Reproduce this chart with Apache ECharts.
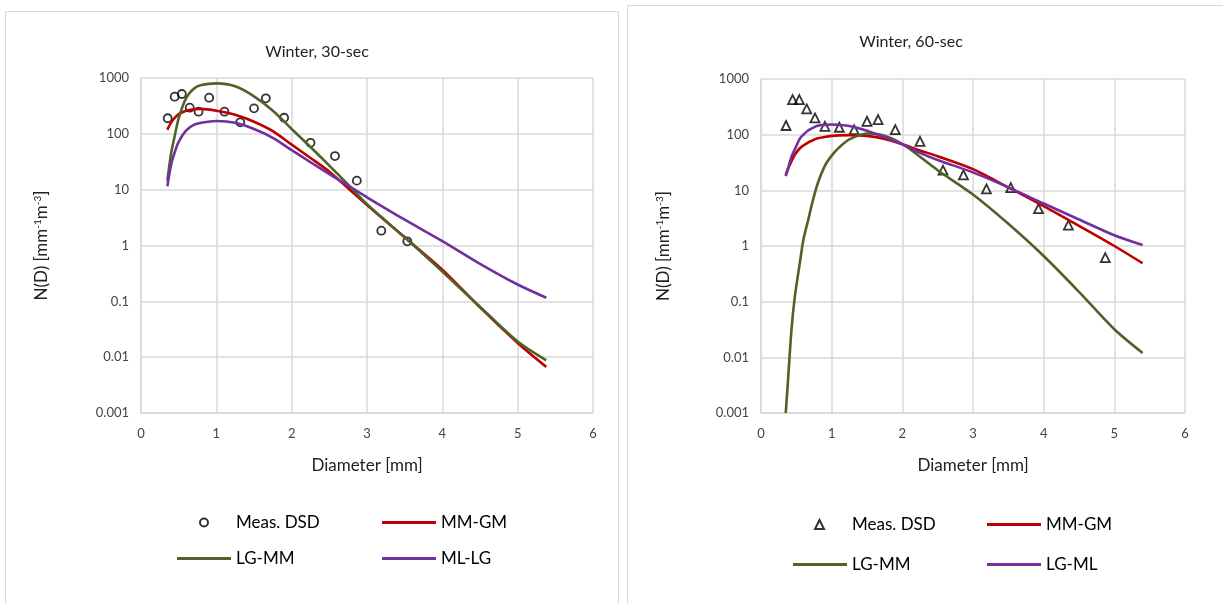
<!DOCTYPE html>
<html>
<head>
<meta charset="utf-8">
<script src="https://cdn.jsdelivr.net/npm/echarts@6/dist/echarts.min.js"></script>
<style>
    body { margin: 0; background: #fff; width: 1223px; height: 604px; overflow: hidden; position: relative; }
    .box { position: absolute; border: 1px solid #d9d9d9; box-sizing: border-box; background: #fff; }
    #chart30 { left: 5px; top: 11px; width: 614px; height: 610px; }
    #chart60 { left: 627px; top: 5px; width: 600px; height: 610px; }
</style>
</head>
<body>
<div id="chart30" class="box"></div>
<div id="chart60" class="box"></div>
<script>
    // drop size bins [mm]
    var diamBins = [0.354, 0.447, 0.542, 0.647, 0.764, 0.905, 1.108, 1.318, 1.5, 1.657, 1.9, 2.25, 2.575, 2.865, 3.19, 3.535, 3.927, 4.35, 4.872];

    // measured DSD, 30-sec (first 16 bins)
    var meas30 = [190, 462, 517, 294, 249, 444, 249, 161, 286, 433, 194, 69, 40, 14.5, 1.84, 1.19];
    // measured DSD, 60-sec
    var meas60 = [146, 426, 426, 290, 200, 141, 136, 123, 174, 187, 123, 76, 23, 19, 10.6, 11.2, 4.7, 2.38, 0.62];

    // fitted curves 30-sec
    var fitX30 = [0.35, 0.4, 0.45, 0.5, 0.6, 0.7, 0.8, 1.0, 1.25, 1.5, 1.75, 2.0, 2.25, 2.5, 2.75, 3.0, 3.5, 4.0, 4.5, 5.0, 5.38];
    var mmgm30 = [118, 160, 195, 225, 260, 275, 280, 260, 220, 165, 112, 64, 37, 21, 10.6, 5.3, 1.4, 0.37, 0.078, 0.018, 0.0067];
    var lgmm30 = [14.5, 45, 95, 190, 440, 640, 750, 800, 710, 470, 260, 122, 58, 27, 12.3, 5.5, 1.4, 0.34, 0.08, 0.019, 0.0088];
    var mllg30 = [11.5, 28, 48, 72, 115, 145, 158, 170, 158, 122, 85, 51, 31, 19, 11.8, 7.3, 2.9, 1.2, 0.47, 0.2, 0.116];

    // fitted curves 60-sec
    var fitX60 = [0.35, 0.38, 0.43, 0.48, 0.55, 0.6, 0.67, 0.72, 0.8, 0.9, 1.0, 1.1, 1.25, 1.5, 1.75, 2.0, 2.25, 2.5, 3.0, 3.5, 4.0, 4.5, 5.0, 5.4];
    var mmgm60 = [19, 24, 33, 44, 57, 64, 73, 78, 86, 91, 95, 97, 98, 95, 84, 67, 52, 41, 24, 11.3, 5.2, 2.3, 1.0, 0.49];
    var lgmm60 = [0.001, 0.0035, 0.03, 0.127, 0.5, 1.3, 3.0, 5.6, 13, 27, 42, 58, 82, 105, 96, 68, 40, 23, 8.4, 2.5, 0.66, 0.15, 0.032, 0.012];
    var lgml60 = [18, 24, 40, 55, 85, 100, 120, 130, 145, 150, 152, 150, 143, 118, 90, 67, 47, 35, 21, 11.3, 5.8, 3.0, 1.56, 1.04];

    var xTicks = [0, 1, 2, 3, 4, 5, 6];
    var yTicks = [0.001, 0.01, 0.1, 1, 10, 100, 1000];

    var FONT = 'Lato, "Open Sans", sans-serif';
    var GRID_COLOR = '#d9d9d9';

    function pairs(xs, ys) {
        var res = [];
        for (var i = 0; i < ys.length; i++) {
            res.push([xs[i], ys[i]]);
        }
        return res;
    }

    function lineSeries(name, color, xs, ys) {
        return {
            name: name,
            type: 'line',
            data: pairs(xs, ys),
            showSymbol: false,
            smooth: 0.3,
            lineStyle: {width: 2.6, color: color},
            itemStyle: {color: color}
        };
    }

    // one legend per item so the columns line up like the original
    function lineLegend(name, left, top) {
        return {
            data: [{name: name, icon: 'rect'}],
            left: left,
            top: top,
            itemWidth: 54,
            itemHeight: 3,
            textStyle: {fontFamily: FONT, fontSize: 17, color: '#000'},
            selectedMode: false
        };
    }

    function markLegend(left, top, size) {
        return {
            data: ['Meas. DSD'],
            left: left,
            top: top,
            itemWidth: size,
            itemHeight: size,
            textStyle: {fontFamily: FONT, fontSize: 17, color: '#000', padding: [0, 0, 0, 23]},
            selectedMode: false
        };
    }

    function buildOption(cfg) {
        return {
            animation: false,
            textStyle: {fontFamily: FONT},
            title: {
                text: cfg.title,
                left: cfg.titleX,
                top: cfg.titleY,
                textAlign: 'center',
                textStyle: {fontFamily: FONT, fontSize: 16, fontWeight: 'normal', color: '#222'}
            },
            legend: [
                markLegend(cfg.markX, cfg.legY[0], cfg.markSize),
                lineLegend(cfg.names[2], cfg.legX[0], cfg.legY[1]),
                lineLegend(cfg.names[1], cfg.legX[1], cfg.legY[0]),
                lineLegend(cfg.names[3], cfg.legX[1], cfg.legY[1])
            ],
            grid: {left: cfg.grid[0], top: cfg.grid[1], width: cfg.grid[2], height: cfg.grid[3]},
            xAxis: {
                type: 'value',
                min: xTicks[0],
                max: xTicks[xTicks.length - 1],
                interval: 1,
                name: 'Diameter [mm]',
                nameLocation: 'middle',
                nameGap: 44,
                nameTextStyle: {fontFamily: FONT, fontSize: 17, color: '#222'},
                axisLine: {lineStyle: {color: GRID_COLOR, width: 1.5}},
                axisTick: {show: false},
                axisLabel: {margin: 14, fontSize: 13, color: '#444', fontFamily: FONT},
                splitLine: {show: true, lineStyle: {color: GRID_COLOR, width: 1.5}}
            },
            yAxis: {
                type: 'log',
                logBase: 10,
                min: yTicks[0],
                max: yTicks[yTicks.length - 1],
                splitNumber: 6,
                name: 'N(D) [mm{sup|-1}m{sup|-3}]',
                nameLocation: 'middle',
                nameRotate: 90,
                nameGap: cfg.yNameGap,
                nameTextStyle: {
                    fontFamily: FONT, fontSize: 17, color: '#222',
                    rich: {sup: {fontFamily: FONT, fontSize: 10, color: '#222', verticalAlign: 'top', padding: [0, 0, 6, 0]}}
                },
                axisLine: {show: true, lineStyle: {color: GRID_COLOR, width: 1.5}},
                axisTick: {show: false},
                axisLabel: {
                    margin: 12, fontSize: 13, color: '#444', fontFamily: FONT,
                    formatter: function (v) {
                        return String(+(+v).toPrecision(3));
                    }
                },
                splitLine: {show: true, lineStyle: {color: GRID_COLOR, width: 1.5}}
            },
            series: [
                {
                    name: 'Meas. DSD',
                    type: 'scatter',
                    data: pairs(diamBins, cfg.meas),
                    symbol: cfg.marker,
                    symbolSize: cfg.markSize,
                    itemStyle: {color: 'rgba(0,0,0,0)', borderColor: '#000', borderWidth: 1.8},
                    z: 1
                },
                lineSeries(cfg.names[1], '#c00000', cfg.fitX, cfg.fits[0]),
                lineSeries(cfg.names[2], '#4f6228', cfg.fitX, cfg.fits[1]),
                lineSeries(cfg.names[3], '#7030a0', cfg.fitX, cfg.fits[2])
            ]
        };
    }

    var chart30 = echarts.init(document.getElementById('chart30'));
    chart30.setOption(buildOption({
        title: 'Winter, 30-sec',
        titleX: 306, titleY: 27,
        grid: [135, 66, 452, 335],
        yNameGap: 91,
        names: ['Meas. DSD', 'MM-GM', 'LG-MM', 'ML-LG'],
        meas: meas30,
        marker: 'circle', markSize: 8,
        markX: 188,
        fitX: fitX30,
        fits: [mmgm30, lgmm30, mllg30],
        legX: [166, 371],
        legY: [497, 533]
    }));

    var chart60 = echarts.init(document.getElementById('chart60'));
    chart60.setOption(buildOption({
        title: 'Winter, 60-sec',
        titleX: 278, titleY: 23,
        grid: [133, 73, 424, 334],
        yNameGap: 89,
        names: ['Meas. DSD', 'MM-GM', 'LG-MM', 'LG-ML'],
        meas: meas60,
        marker: 'triangle', markSize: 9,
        markX: 181,
        fitX: fitX60,
        fits: [mmgm60, lgmm60, lgml60],
        legX: [160, 354],
        legY: [505, 545]
    }));
</script>
</body>
</html>
